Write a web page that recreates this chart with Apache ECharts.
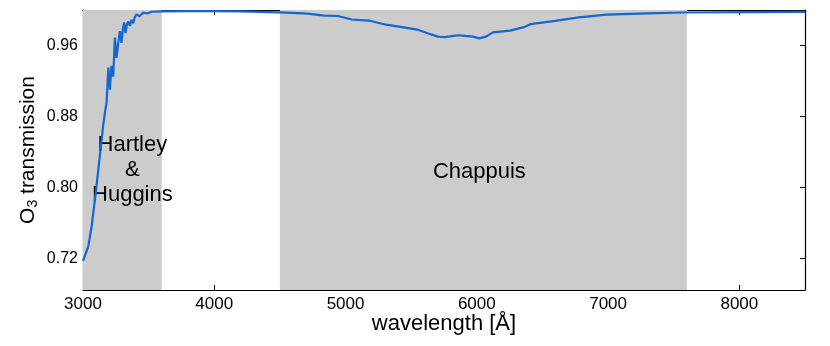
<!DOCTYPE html>
<html>
<head>
<meta charset="utf-8">
<script src="https://cdn.jsdelivr.net/npm/echarts@6/dist/echarts.min.js"></script>
<style>
  html, body { margin: 0; padding: 0; background: #fff; }
  #chart { width: 830px; height: 346px; }
</style>
</head>
<body>
<div id="chart"></div>
<script>
// wavelength [Å] and O3 transmission
var wavelength = [
  3000, 3015, 3040, 3066, 3091, 3117, 3142, 3154, 3167, 3180, 3193, 3205, 3217, 3230,
  3243, 3255, 3268, 3281, 3293, 3304, 3314, 3324, 3335, 3345, 3358, 3370, 3383, 3395,
  3408, 3430, 3460, 3490, 3522, 3600, 3800, 4000, 4200, 4418, 4550, 4680, 4760, 4837,
  4942, 5047, 5178, 5309, 5467, 5546, 5620, 5703, 5755, 5810, 5860, 5913, 5970, 6018,
  6070, 6122, 6254, 6359, 6411, 6595, 6778, 6988, 7303, 7565, 8090, 8500
];
var transmission = [
  0.717, 0.716, 0.733, 0.756, 0.786, 0.820, 0.854, 0.870, 0.884, 0.896, 0.935, 0.910, 0.937, 0.925,
  0.969, 0.946, 0.962, 0.976, 0.963, 0.979, 0.986, 0.974, 0.984, 0.987, 0.982, 0.989, 0.985, 0.992,
  0.995, 0.993, 0.997, 0.996, 0.998, 0.9985, 0.9987, 0.9987, 0.9985, 0.9976, 0.997, 0.9963, 0.995, 0.9936,
  0.9932, 0.9893, 0.9881, 0.9834, 0.9798, 0.9779, 0.974, 0.970, 0.9693, 0.9705, 0.9715, 0.9707, 0.970, 0.968,
  0.9700, 0.9747, 0.9767, 0.9806, 0.9841, 0.9877, 0.9916, 0.9947, 0.9963, 0.9972, 0.9976, 0.9978
];
// shaded absorption bands
var bandNames = ['Hartley\n&\nHuggins', 'Chappuis'];
var bandStart = [3000, 4500];
var bandEnd = [3600, 7600];
var yTicks = [0.72, 0.80, 0.88, 0.96];

var chart = echarts.init(document.getElementById('chart'));

var lineData = wavelength.map(function (w, i) { return [w, transmission[i]]; });
var bands = bandNames.map(function (n, i) {
  return [{ name: n, xAxis: bandStart[i] }, { xAxis: bandEnd[i] }];
});

var font = 'Liberation Sans, Arial, sans-serif';
var frameLine = { show: true, onZero: false, lineStyle: { color: '#000', width: 1.2 } };
var tick = { show: true, inside: true, length: 5, lineStyle: { color: '#000' } };

var option = {
  backgroundColor: '#fff',
  animation: false,
  grid: { left: 83, right: 25, top: 10, bottom: 56, containLabel: false },
  xAxis: [
    {
      type: 'value', min: 3000, max: 8500, interval: 1000,
      axisLine: frameLine, axisTick: tick, splitLine: { show: false },
      axisLabel: {
        color: '#000', fontSize: 17, fontFamily: font, margin: 6, showMaxLabel: false,
        formatter: function (v) { return String(v); }
      },
      name: 'wavelength [Å]', nameLocation: 'middle', nameGap: 23, nameMoveOverlap: false,
      nameTextStyle: { color: '#000', fontSize: 22, fontFamily: font }
    },
    {
      type: 'value', position: 'top', min: 3000, max: 8500, interval: 1000,
      axisLine: frameLine, axisTick: tick, splitLine: { show: false },
      axisLabel: { show: false }
    }
  ],
  yAxis: [
    {
      type: 'value', min: 0.684, max: 1.0,
      axisLine: frameLine,
      axisTick: { show: true, inside: true, length: 5, customValues: yTicks, lineStyle: { color: '#000' } },
      splitLine: { show: false },
      axisLabel: {
        color: '#000', fontSize: 16, fontFamily: font, margin: 5, customValues: yTicks,
        formatter: function (v) { return v.toFixed(2); }
      },
      name: '{a|O}{b|3}{a| transmission}', nameLocation: 'middle', nameGap: 43, nameMoveOverlap: false,
      nameTextStyle: {
        color: '#000', fontFamily: font,
        rich: {
          a: { fontSize: 21, lineHeight: 24, fontFamily: font, color: '#000' },
          b: { fontSize: 14, lineHeight: 14, verticalAlign: 'bottom', fontFamily: font, color: '#000' }
        }
      }
    },
    {
      type: 'value', position: 'right', min: 0.684, max: 1.0,
      axisLine: frameLine,
      axisTick: { show: true, inside: true, length: 5, customValues: yTicks, lineStyle: { color: '#000' } },
      splitLine: { show: false },
      axisLabel: { show: false, customValues: yTicks }
    }
  ],
  series: [
    {
      type: 'line',
      data: lineData,
      showSymbol: false,
      smooth: false,
      lineStyle: { color: '#1466d2', width: 2.2 },
      z: 3,
      markArea: {
        silent: true,
        itemStyle: { color: '#cccccc' },
        label: {
          show: true, position: 'inside', color: '#000', fontSize: 22, fontFamily: font,
          lineHeight: 25,
          formatter: function (p) { return p.name; }
        },
        data: bands.map(function (b, i) {
          b[0].label = { offset: i === 0 ? [10, 20] : [-4, 22] };
          return b;
        })
      }
    }
  ]
};

chart.setOption(option);
</script>
</body>
</html>
